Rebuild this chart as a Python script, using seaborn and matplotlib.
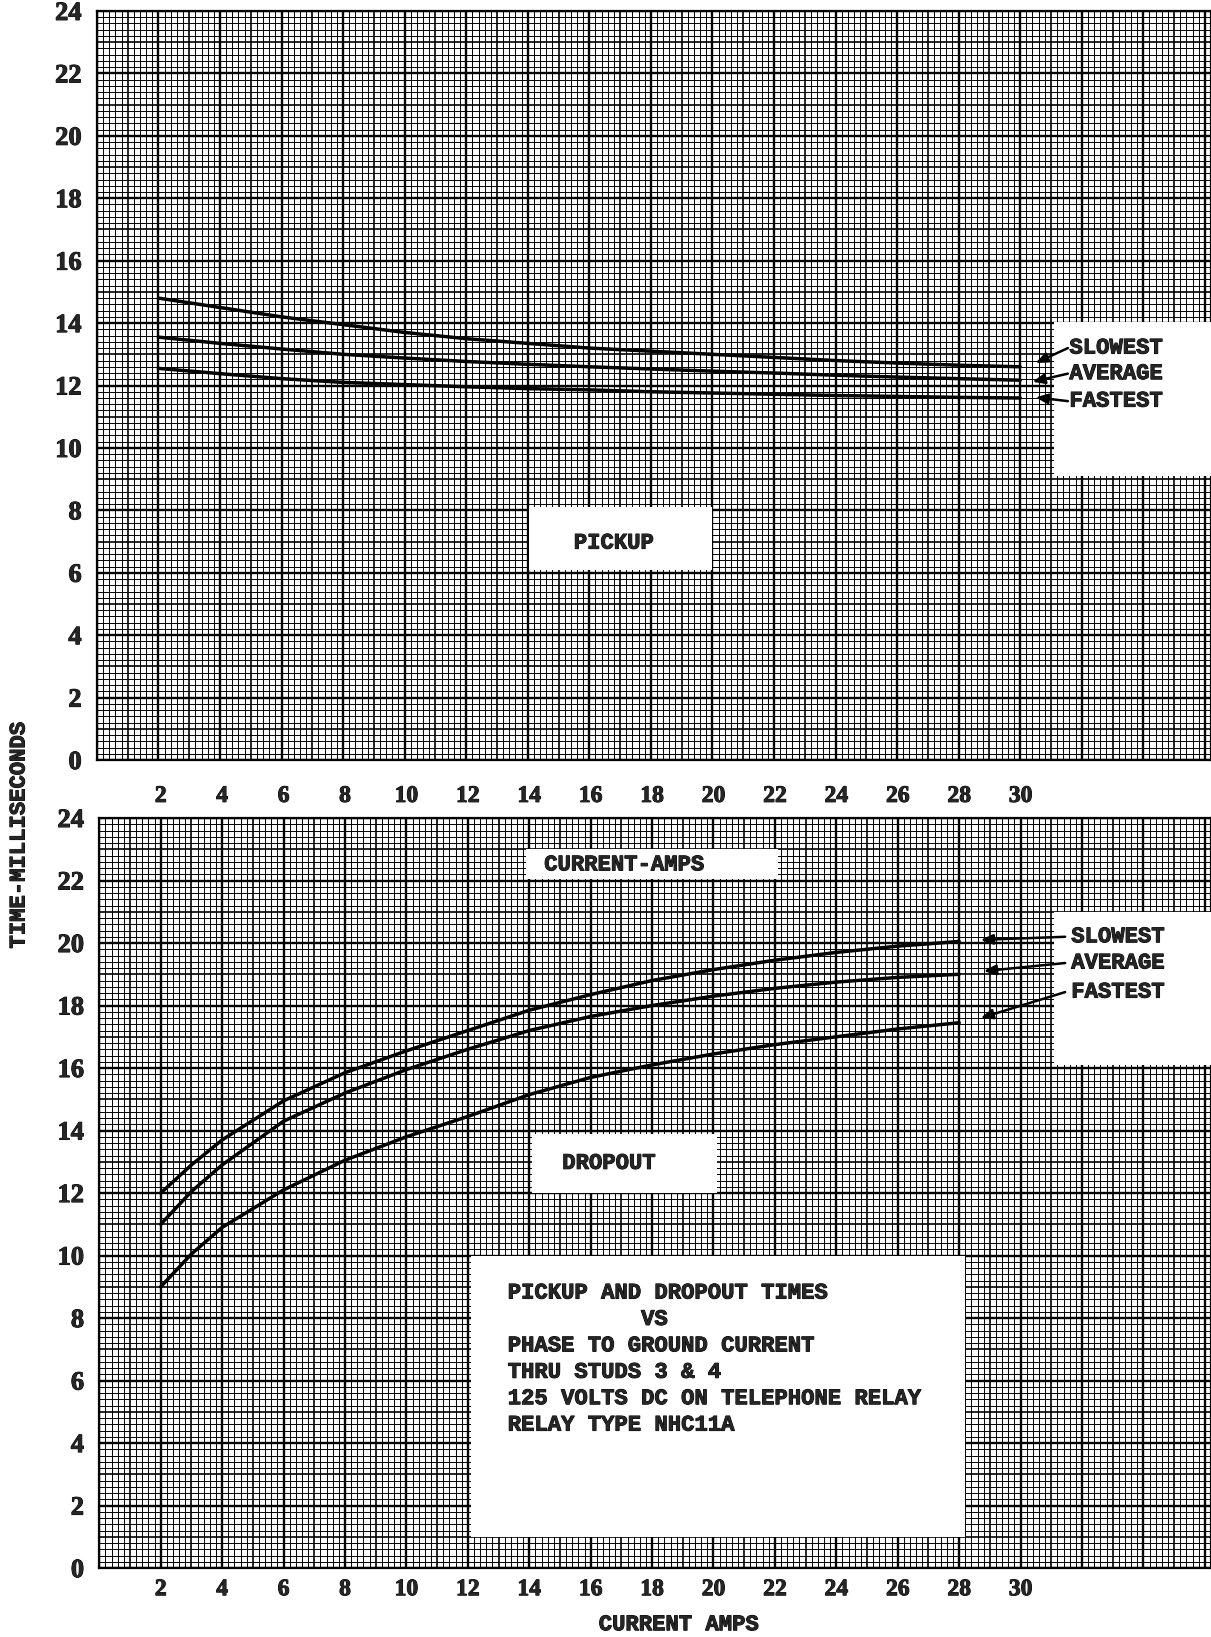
import numpy as np
import pandas as pd
import seaborn as sns
import matplotlib.pyplot as plt
import matplotlib.patheffects as pe
from matplotlib.patches import Rectangle

# ---- values ----
pickup_amps = [2, 4, 6, 8, 10, 12, 14, 16, 18, 20, 22, 24, 26, 28, 30]
pickup_slowest = [14.8, 14.5, 14.2, 13.95, 13.7, 13.5, 13.35, 13.2, 13.1, 13.0, 12.9, 12.8, 12.72, 12.65, 12.6]
pickup_average = [13.55, 13.35, 13.17, 13.0, 12.88, 12.77, 12.68, 12.6, 12.53, 12.46, 12.4, 12.33, 12.27, 12.22, 12.17]
pickup_fastest = [12.55, 12.38, 12.22, 12.1, 12.03, 11.96, 11.9, 11.86, 11.8, 11.76, 11.72, 11.68, 11.65, 11.62, 11.6]

dropout_amps = [2, 3, 4, 6, 8, 10, 12, 14, 16, 18, 20, 22, 24, 26, 28]
dropout_slowest = [12.0, 12.9, 13.7, 14.95, 15.85, 16.55, 17.2, 17.85, 18.35, 18.8, 19.15, 19.45, 19.7, 19.9, 20.05]
dropout_average = [11.0, 12.05, 12.9, 14.3, 15.2, 15.95, 16.6, 17.2, 17.65, 18.0, 18.3, 18.55, 18.75, 18.9, 19.0]
dropout_fastest = [9.0, 10.05, 10.9, 12.1, 13.05, 13.8, 14.45, 15.15, 15.7, 16.1, 16.45, 16.75, 17.0, 17.25, 17.45]

x_ticks = [2, 4, 6, 8, 10, 12, 14, 16, 18, 20, 22, 24, 26, 28, 30]
y_ticks = [0, 2, 4, 6, 8, 10, 12, 14, 16, 18, 20, 22, 24]
series_names = ["SLOWEST", "AVERAGE", "FASTEST"]

note_lines = [
    "PICKUP AND DROPOUT TIMES",
    "          VS",
    "PHASE TO GROUND CURRENT",
    "THRU STUDS 3 & 4",
    "125 VOLTS DC ON TELEPHONE RELAY",
    "RELAY TYPE NHC11A",
]

sns.set_theme(style="white")
plt.rcParams['font.family'] = ['Liberation Mono', 'DejaVu Sans Mono']
plt.rcParams['font.weight'] = 'bold'
FS = 16
INK = [pe.withStroke(linewidth=0.7, foreground="black")]
DIGITS = ['Liberation Serif', 'DejaVu Serif']

XMAX, YMAX = 36.2, 24


def long_frame(amps, slow, avg, fast):
    rows = []
    for name, vals in zip(series_names, [slow, avg, fast]):
        for a, v in zip(amps, vals):
            rows.append({"amps": a, "ms": v, "curve": name})
    return pd.DataFrame(rows)


def draw_paper(ax):
    # graph paper: fine 0.2, medium 1, heavy 2
    for v in np.arange(0, XMAX + 0.01, 0.2):
        k = int(round(v * 5))
        lw = 1.7 if k % 10 == 0 else (1.2 if k % 5 == 0 else 0.7)
        ax.axvline(v, color="black", lw=lw, zorder=1)
    for v in np.arange(0, YMAX + 0.01, 0.2):
        k = int(round(v * 5))
        lw = 1.7 if k % 10 == 0 else (1.2 if k % 5 == 0 else 0.7)
        ax.axhline(v, color="black", lw=lw, zorder=1)


def white_box(ax, x0, y0, x1, y1):
    ax.add_patch(Rectangle((x0, y0), x1 - x0, y1 - y0, facecolor="white",
                           edgecolor="none", zorder=3))


def put(ax, x, y, s, **kw):
    t = ax.text(x, y, s, fontsize=FS, fontweight="bold", zorder=5, **kw)
    t.set_path_effects(INK)
    return t


def setup(ax):
    ax.set_xlim(0, XMAX)
    ax.set_ylim(0, YMAX)
    ax.set_yticks(y_ticks)
    ax.set_yticklabels([str(t) for t in y_ticks], fontsize=19,
                       fontweight="bold", family=DIGITS)
    ax.tick_params(axis="both", length=0)
    ax.tick_params(axis="y", pad=11)
    for lab in ax.get_yticklabels():
        lab.set_path_effects(INK)
    for s in ax.spines.values():
        s.set_color("black")
        s.set_linewidth(1.6)
        s.set_visible(True)
    ax.set_xlabel("")
    ax.set_ylabel("")


fig = plt.figure(figsize=(12.11, 16.37), dpi=100)
ax_top = fig.add_axes([0.080, 0.5357, 0.920, 0.4576])
ax_bot = fig.add_axes([0.082, 0.0421, 0.918, 0.4582])

arrow_kw = dict(arrowstyle="-|>,head_length=0.6,head_width=0.25",
                color="black", lw=1.8, shrinkA=0, shrinkB=0)

# ---- PICKUP ----
draw_paper(ax_top)
df_top = long_frame(pickup_amps, pickup_slowest, pickup_average, pickup_fastest)
sns.lineplot(data=df_top, x="amps", y="ms", units="curve", estimator=None,
             color="black", lw=2.5, ax=ax_top, zorder=4, legend=False)
setup(ax_top)
ax_top.set_xticks([])
white_box(ax_top, 31.1, 9.1, XMAX, 14.05)
white_box(ax_top, 14.05, 6.1, 20.0, 8.1)
put(ax_top, 16.8, 6.95, "PICKUP", ha="center", va="center")
top_lab_y = [13.2, 12.38, 11.5]
top_tips = [(30.5, 12.72), (30.4, 12.12), (30.5, 11.62)]
for name, ly, tip in zip(series_names, top_lab_y, top_tips):
    put(ax_top, 31.6, ly, name, ha="left", va="center")
    ax_top.annotate("", xy=tip, xytext=(31.55, ly), zorder=5, arrowprops=arrow_kw)

# ---- DROPOUT ----
draw_paper(ax_bot)
df_bot = long_frame(dropout_amps, dropout_slowest, dropout_average, dropout_fastest)
sns.lineplot(data=df_bot, x="amps", y="ms", units="curve", estimator=None,
             color="black", lw=2.5, ax=ax_bot, zorder=4, legend=False)
setup(ax_bot)
ax_bot.set_xticks(x_ticks)
ax_bot.set_xticklabels([str(t) for t in x_ticks], fontsize=17,
                       fontweight="bold", family=DIGITS)
ax_bot.tick_params(axis="x", top=True, labeltop=True, pad=8)
for tk in ax_bot.xaxis.get_major_ticks():
    for lab in (tk.label1, tk.label2):
        lab.set_path_effects(INK)
        lab.set_family(DIGITS)
        lab.set_fontsize(17)
        lab.set_fontweight("bold")
white_box(ax_bot, 31.1, 16.1, XMAX, 21.0)
white_box(ax_bot, 13.9, 22.05, 22.1, 23.0)
white_box(ax_bot, 14.1, 12.0, 20.1, 13.9)
white_box(ax_bot, 12.1, 1.0, 28.2, 10.0)
put(ax_bot, 17.1, 22.5, "CURRENT-AMPS", ha="center", va="center")
put(ax_bot, 16.6, 12.95, "DROPOUT", ha="center", va="center")
bot_lab_y = [20.2, 19.36, 18.43]
bot_tips = [(28.7, 20.1), (28.8, 19.1), (28.7, 17.6)]
for name, ly, tip in zip(series_names, bot_lab_y, bot_tips):
    put(ax_bot, 31.65, ly, name, ha="left", va="center")
    ax_bot.annotate("", xy=tip, xytext=(31.45, ly), zorder=5, arrowprops=arrow_kw)
for i, line in enumerate(note_lines):
    put(ax_bot, 13.3, 8.8 - i * 0.845, line, ha="left", va="center")

t1 = fig.text(0.0157, 0.49, "TIME-MILLISECONDS", rotation=90, fontsize=FS,
              fontweight="bold", ha="center", va="center")
t2 = fig.text(0.5607, 0.0075, "CURRENT AMPS", fontsize=FS, fontweight="bold",
              ha="center", va="center")
t1.set_path_effects(INK)
t2.set_path_effects(INK)

fig.savefig("out.png", dpi=100, facecolor="white")
